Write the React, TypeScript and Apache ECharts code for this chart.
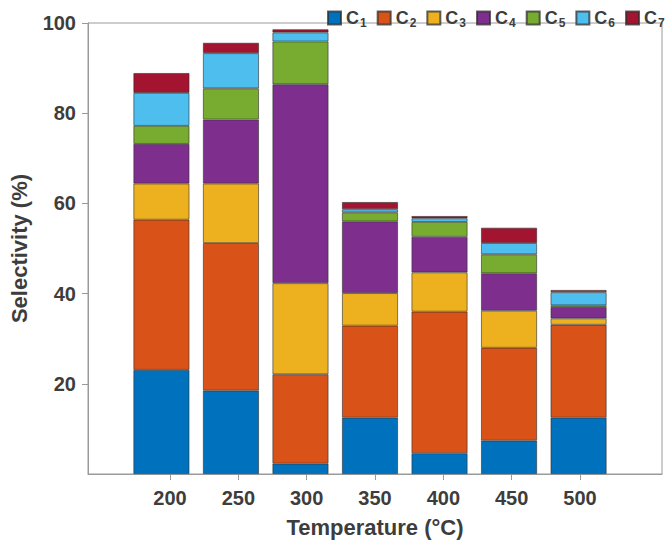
import React, { useEffect, useRef } from "react";
import * as echarts from "echarts";

// Reaction temperature (°C) for each stacked bar
const temperatures = [200, 250, 300, 350, 400, 450, 500];

// Product selectivity (%) per carbon number, one value per temperature
const c1 = [23.1, 18.5, 2.3, 12.5, 4.6, 7.4, 12.5];
const c2 = [33.3, 32.7, 19.8, 20.4, 31.4, 20.6, 20.6];
const c3 = [8.0, 13.2, 20.2, 7.2, 8.7, 8.2, 1.4];
const c4 = [8.8, 14.2, 44.1, 15.9, 7.9, 8.3, 2.5];
const c5 = [4.0, 6.9, 9.5, 2.0, 3.3, 4.2, 0.4];
const c6 = [7.3, 7.8, 2.0, 0.7, 0.8, 2.5, 2.9];
const c7 = [4.4, 2.3, 0.7, 1.6, 0.5, 3.4, 0.5];

const seriesNames = ["C1", "C2", "C3", "C4", "C5", "C6", "C7"];
const seriesValues = [c1, c2, c3, c4, c5, c6, c7];
const seriesColors = ["#0072BD", "#D95319", "#EDB120", "#7E2F8E", "#77AC30", "#4DBEEE", "#A2142F"];

const yTicks = [20, 40, 60, 80, 100];

const TEXT = "#3d3d3d";
const AXIS = "#9a9a9a";
const FONT = "'Liberation Sans', Arial, sans-serif";

// Frame geometry: the temperature axis runs from 140 to 560 °C
const W = 666;
const H = 546;
const LEFT = 78;
const RIGHT = 4;
const TOP = 23;
const BOTTOM = 72;
const X_MIN = 140;
const X_MAX = 560;

export default function App() {
  const ref = useRef<HTMLDivElement>(null);

  useEffect(() => {
    document.body.style.margin = "0";
    const chart = echarts.init(ref.current!, null, { renderer: "svg" });

    // The bars live on a category grid whose bands line up with the
    // temperature ticks of the visible value axis.
    const pxPerUnit = (W - LEFT - RIGHT) / (X_MAX - X_MIN);
    const step = temperatures[1] - temperatures[0];
    const band = step * pxPerUnit;
    const barLeft = LEFT + (temperatures[0] - X_MIN) * pxPerUnit - band / 2;
    const barRight = W - (barLeft + band * temperatures.length);

    const series = seriesNames.map((name, i) => ({
      name,
      type: "bar",
      stack: "total",
      xAxisIndex: 1,
      yAxisIndex: 1,
      barWidth: 56,
      itemStyle: {
        color: seriesColors[i],
        borderColor: "rgba(45,45,45,0.75)",
        borderWidth: 0.8,
      },
      data: seriesValues[i],
    }));

    chart.setOption({
      animation: false,
      textStyle: { fontFamily: FONT },
      grid: [
        {
          left: LEFT,
          right: RIGHT,
          top: TOP,
          bottom: BOTTOM,
          show: true,
          borderColor: AXIS,
          borderWidth: 1,
          z: 0,
        },
        { left: barLeft, right: barRight, top: TOP, bottom: BOTTOM },
      ],
      legend: {
        left: 322,
        top: 2,
        width: 344,
        icon: "rect",
        itemWidth: 13,
        itemHeight: 13,
        itemGap: 10,
        data: seriesNames,
        formatter: (name: string) => `{b|C}{s|${name.slice(1)}}`,
        textStyle: {
          color: TEXT,
          fontFamily: FONT,
          rich: {
            b: { fontSize: 18, fontWeight: "bold", color: TEXT, fontFamily: FONT, lineHeight: 18 },
            s: { fontSize: 12, fontWeight: "bold", color: TEXT, fontFamily: FONT, lineHeight: 12, padding: [10, 0, 0, 1] },
          },
        },
      },
      xAxis: [
        {
          type: "value",
          gridIndex: 0,
          min: X_MIN,
          max: X_MAX,
          splitLine: { show: false },
          axisLine: { show: true, lineStyle: { color: AXIS, width: 1 } },
          axisTick: { show: true, length: 6, customValues: temperatures, lineStyle: { color: AXIS } },
          axisLabel: {
            customValues: temperatures,
            color: TEXT,
            fontSize: 20,
            fontWeight: "bold",
            fontFamily: FONT,
            margin: 14,
          },
          name: "Temperature (°C)",
          nameLocation: "middle",
          nameGap: 42,
          nameTextStyle: { color: TEXT, fontSize: 22, fontWeight: "bold", fontFamily: FONT },
        },
        {
          type: "category",
          gridIndex: 1,
          data: temperatures.map(String),
          show: false,
        },
      ],
      yAxis: [
        {
          type: "value",
          gridIndex: 0,
          min: 0,
          max: 100,
          interval: 20,
          splitLine: { show: false },
          axisLine: { show: true, lineStyle: { color: AXIS, width: 1 } },
          axisTick: { show: true, length: 6, customValues: yTicks, lineStyle: { color: AXIS } },
          axisLabel: {
            customValues: yTicks,
            color: TEXT,
            fontSize: 20,
            fontWeight: "bold",
            fontFamily: FONT,
            margin: 12,
          },
          name: "Selectivity (%)",
          nameLocation: "middle",
          nameGap: 58,
          nameTextStyle: { color: TEXT, fontSize: 22, fontWeight: "bold", fontFamily: FONT },
        },
        {
          type: "value",
          gridIndex: 1,
          min: 0,
          max: 100,
          show: false,
          splitLine: { show: false },
        },
      ],
      series,
    });

    return () => chart.dispose();
  }, []);

  return <div ref={ref} style={{ width: W, height: H }} />;
}
